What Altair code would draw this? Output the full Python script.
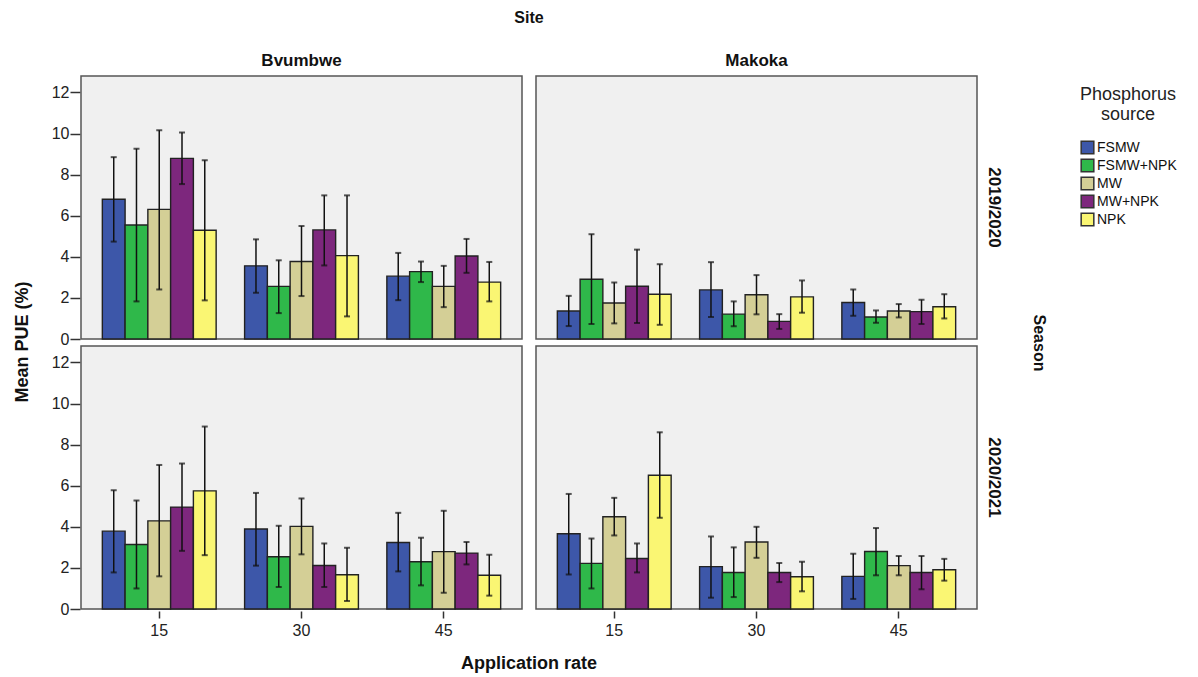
import altair as alt
import pandas as pd

sites = ["Bvumbwe", "Makoka"]
seasons = ["2019/2020", "2020/2021"]
rates = ["15", "30", "45"]
sources = ["FSMW", "FSMW+NPK", "MW", "MW+NPK", "NPK"]
colors = ["#3D57A9", "#2FB84A", "#D4CF96", "#7D277D", "#FAF673"]

# values ordered rate-major (15, 30, 45), sources within
bvumbwe_1920_mean = [6.80, 5.55, 6.31, 8.79, 5.29, 3.56, 2.56, 3.77, 5.31, 4.06, 3.06, 3.28, 2.56, 4.04, 2.77]
bvumbwe_1920_lo = [4.74, 1.83, 2.41, 7.54, 1.88, 2.25, 1.26, 2.09, 3.58, 1.10, 1.89, 2.77, 1.55, 3.22, 1.83]
bvumbwe_1920_hi = [8.85, 9.26, 10.16, 10.05, 8.70, 4.85, 3.83, 5.50, 6.99, 6.99, 4.19, 3.77, 3.56, 4.87, 3.75]

makoka_1920_mean = [1.36, 2.91, 1.75, 2.57, 2.18, 2.39, 1.21, 2.15, 0.86, 2.05, 1.78, 1.07, 1.36, 1.33, 1.57]
makoka_1920_lo = [0.63, 0.73, 0.76, 0.78, 0.69, 1.07, 0.62, 1.20, 0.49, 1.28, 1.13, 0.79, 1.05, 0.73, 1.00]
makoka_1920_hi = [2.10, 5.10, 2.75, 4.35, 3.64, 3.74, 1.83, 3.11, 1.21, 2.85, 2.41, 1.39, 1.70, 1.91, 2.18]

bvumbwe_2021_mean = [3.79, 3.14, 4.29, 4.96, 5.75, 3.89, 2.54, 4.02, 2.12, 1.67, 3.24, 2.30, 2.79, 2.72, 1.64]
bvumbwe_2021_lo = [1.78, 1.00, 1.59, 2.83, 2.62, 2.11, 1.07, 2.66, 1.07, 0.39, 1.83, 1.15, 0.79, 2.17, 0.65]
bvumbwe_2021_hi = [5.78, 5.28, 7.01, 7.08, 8.88, 5.65, 4.05, 5.38, 3.19, 2.98, 4.68, 3.47, 4.78, 3.26, 2.64]

makoka_2021_mean = [3.66, 2.22, 4.49, 2.46, 6.51, 2.06, 1.78, 3.26, 1.78, 1.57, 1.59, 2.80, 2.11, 1.78, 1.91]
makoka_2021_lo = [1.68, 1.00, 3.58, 1.78, 4.44, 0.55, 0.58, 2.49, 1.31, 0.86, 0.49, 1.64, 1.64, 0.96, 1.38]
makoka_2021_hi = [5.60, 3.43, 5.41, 3.19, 8.60, 3.53, 3.00, 4.00, 2.24, 2.30, 2.69, 3.94, 2.58, 2.58, 2.44]

panels = [
    ("Bvumbwe", "2019/2020", bvumbwe_1920_mean, bvumbwe_1920_lo, bvumbwe_1920_hi),
    ("Makoka", "2019/2020", makoka_1920_mean, makoka_1920_lo, makoka_1920_hi),
    ("Bvumbwe", "2020/2021", bvumbwe_2021_mean, bvumbwe_2021_lo, bvumbwe_2021_hi),
    ("Makoka", "2020/2021", makoka_2021_mean, makoka_2021_lo, makoka_2021_hi),
]

rows = []
for site, season, m, lo, hi in panels:
    i = 0
    for r in rates:
        for s in sources:
            rows.append({"site": site, "season": season, "rate": r, "source": s,
                         "mean": m[i], "lo": lo[i], "hi": hi[i]})
            i += 1
df = pd.DataFrame(rows)

FONT = "Liberation Sans"

x = alt.X("rate:N", sort=rates,
          scale=alt.Scale(paddingInner=0.2, paddingOuter=0.15),
          axis=alt.Axis(title=None, labelAngle=0, domain=False, tickSize=7,
                        tickColor="#333", tickWidth=1.5, labelFontSize=16,
                        labelColor="#222", labelPadding=4, labelFont=FONT))
xo = alt.XOffset("source:N", sort=sources, scale=alt.Scale(paddingInner=0, paddingOuter=0))
yscale = alt.Scale(domain=[0, 12.8], nice=False)
yaxis = alt.Axis(title=None, values=[0, 2, 4, 6, 8, 10, 12], grid=False, domain=False,
                 tickSize=10, tickColor="#333", tickWidth=1.5, labelFontSize=16,
                 labelColor="#222", labelPadding=1, labelFont=FONT)

color = alt.Color("source:N", sort=sources,
                  scale=alt.Scale(domain=sources, range=colors),
                  legend=alt.Legend(title=["Phosphorus", "source"], titleFontSize=18,
                                    titleFontWeight="normal", titleAlign="center",
                                    titleAnchor="middle", titleColor="#222",
                                    labelFontSize=14, labelColor="#111", labelFont=FONT,
                                    titleFont=FONT, symbolType="square", symbolSize=160,
                                    symbolStrokeColor="#333", symbolStrokeWidth=1.5,
                                    labelOffset=2, rowPadding=-1, titlePadding=16,
                                    offset=23, padding=10))

base = alt.Chart(df)
bars = base.mark_bar(stroke="#222", strokeWidth=1.4).encode(
    x=x, xOffset=xo, y=alt.Y("mean:Q", scale=yscale, axis=yaxis), color=color)
rules = base.mark_rule(color="#111", strokeWidth=1.5).encode(
    x=x, xOffset=xo, y=alt.Y("lo:Q", scale=yscale), y2="hi:Q")
cap_hi = base.mark_tick(color="#111", thickness=2, size=6).encode(
    x=x, xOffset=xo, y=alt.Y("hi:Q", scale=yscale))
cap_lo = base.mark_tick(color="#111", thickness=2, size=6).encode(
    x=x, xOffset=xo, y=alt.Y("lo:Q", scale=yscale))

layer = alt.layer(bars, rules, cap_hi, cap_lo).properties(width=441, height=263)

facet = layer.facet(
    column=alt.Column("site:N", sort=sites,
                      header=alt.Header(title="Site", titleFontSize=16, titleFontWeight="bold",
                                        titleFont=FONT, titleColor="#111", titlePadding=16,
                                        labelFontSize=17, labelFontWeight="bold", labelFont=FONT,
                                        labelColor="#111", labelPadding=5)),
    row=alt.Row("season:N", sort=seasons,
                header=alt.Header(title="Season", titleOrient="right", titleAngle=90,
                                  titleFontSize=16, titleFontWeight="bold", titleFont=FONT,
                                  titleColor="#111", titlePadding=18,
                                  labelOrient="right", labelAngle=90, labelFontSize=17,
                                  labelFontWeight="bold", labelFont=FONT, labelColor="#111",
                                  labelPadding=7)),
    spacing={"row": 4, "column": 12},
)

ytitle = alt.Chart(pd.DataFrame({"t": ["Mean PUE (%)"]})).mark_text(
    angle=270, fontSize=18, fontWeight="bold", font=FONT, color="#111"
).encode(text="t:N", x=alt.value(4), y=alt.value(266)).properties(
    width=12, height=530, view=alt.ViewBackground(fill="transparent", stroke="transparent"))

xtitle = alt.Chart(pd.DataFrame({"t": ["Application rate"]})).mark_text(
    fontSize=18, fontWeight="bold", font=FONT, color="#111"
).encode(text="t:N", x=alt.value(510), y=alt.value(9)).properties(
    width=900, height=16, view=alt.ViewBackground(fill="transparent", stroke="transparent"))

chart = alt.vconcat(
    alt.hconcat(ytitle, facet, spacing=18),
    xtitle, spacing=16,
).properties(
    padding={"top": 2, "left": 5, "right": 2, "bottom": 5}
).configure(
    font=FONT, background="white",
    view=alt.ViewConfig(fill="#F0F0F0", stroke="#555", strokeWidth=1.5),
)

chart.save("out.html", embed_options={"renderer": "svg", "actions": False})
